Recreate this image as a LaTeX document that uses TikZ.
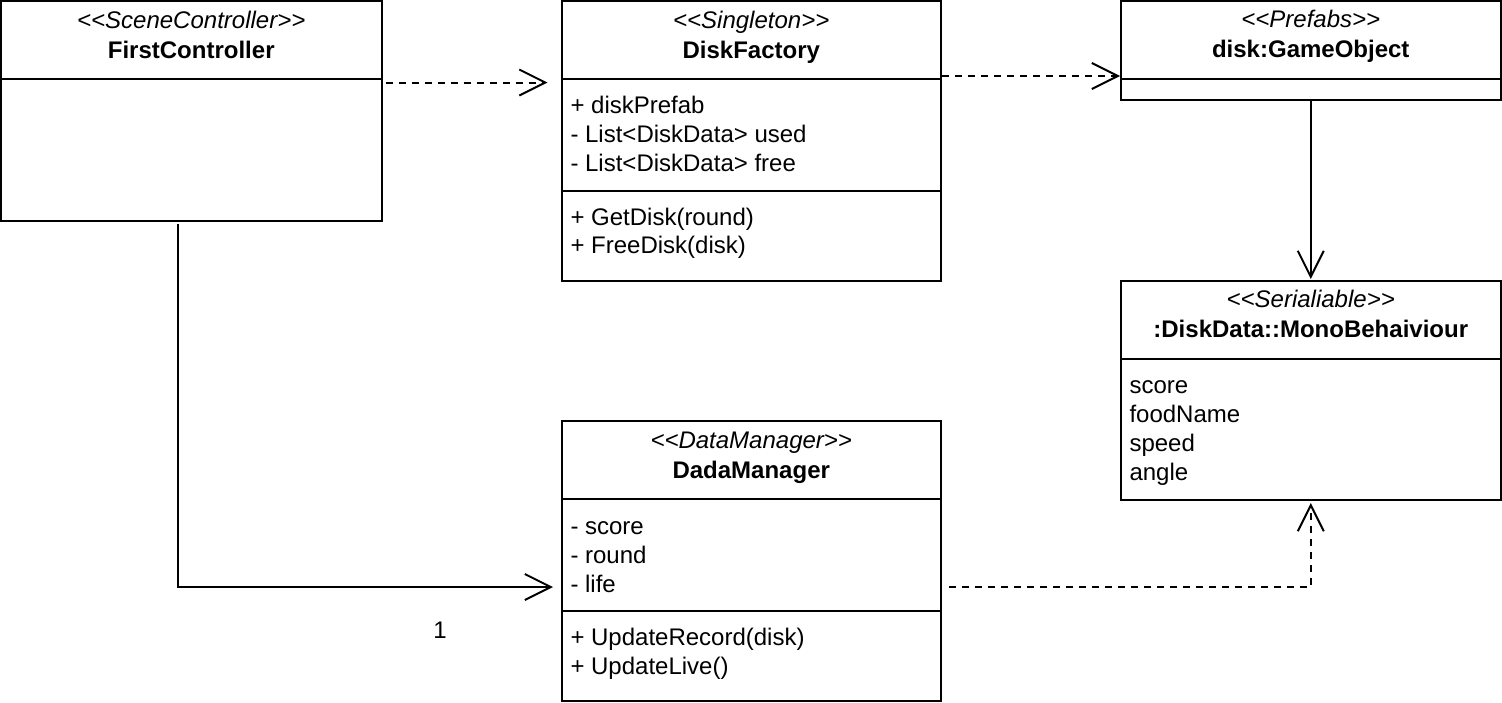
\documentclass[tikz,border=0pt]{standalone}
\usepackage{fontspec}
\setmainfont{Liberation Sans}
\usetikzlibrary{arrows.meta,calc}
\begin{document}
\begin{tikzpicture}[x=1pt,y=-1pt, line width=2pt,
  box/.style={draw, rectangle, anchor=north west, inner sep=0pt, outer sep=0pt, line width=2pt},
  stereo/.style={anchor=base, inner sep=0pt, font=\fontsize{24}{29}\selectfont\itshape},
  ctitle/.style={anchor=base, inner sep=0pt, font=\fontsize{24}{29}\selectfont\bfseries},
  member/.style={anchor=base west, inner sep=0pt, font=\fontsize{24}{29}\selectfont},
  vtip/.tip={Straight Barb[length=26pt, width=26pt, line width=2pt]},
  dep/.style={line width=2pt, dash pattern=on 7pt off 6pt, -vtip},
  assoc/.style={line width=2pt, -vtip},
]
\useasboundingbox (0,0) rectangle (1502,702);

% boxes
\node[box, minimum width=380.5pt, minimum height=220pt] (FC) at (1,1) {};
\node[box, minimum width=379.5pt, minimum height=280pt] (DF) at (561.5,1) {};
\node[box, minimum width=380.5pt, minimum height=99pt] (GO) at (1120.5,1) {};
\node[box, minimum width=380.5pt, minimum height=219pt] (DD) at (1120.5,281) {};
\node[box, minimum width=379.5pt, minimum height=280pt] (DM) at (561.5,421) {};

% dividers
\draw ($(FC.north west)+(0,78)$) -- ($(FC.north east)+(0,78)$);
\draw ($(DF.north west)+(0,78)$) -- ($(DF.north east)+(0,78)$);
\draw ($(DF.north west)+(0,190)$) -- ($(DF.north east)+(0,190)$);
\draw ($(GO.north west)+(0,78)$) -- ($(GO.north east)+(0,78)$);
\draw ($(DD.north west)+(0,78)$) -- ($(DD.north east)+(0,78)$);
\draw ($(DM.north west)+(0,78)$) -- ($(DM.north east)+(0,78)$);
\draw ($(DM.north west)+(0,190)$) -- ($(DM.north east)+(0,190)$);

% FirstController
\node[stereo] (fcS) at ($(FC.north)+(0,27)$) {<{}<SceneController>{}>};
\node[ctitle] (fcT) at ($(FC.north)+(0,57)$) {FirstController};

% DiskFactory
\node[stereo] (dfS) at ($(DF.north)+(0,27)$) {<{}<Singleton>{}>};
\node[ctitle] (dfT) at ($(DF.north)+(0,57)$) {DiskFactory};
\node[member] (dfA1) at ($(DF.north west)+(8,112)$) {+ diskPrefab};
\node[member] (dfA2) at ($(DF.north west)+(8,141)$) {- List<DiskData> used};
\node[member] (dfA3) at ($(DF.north west)+(8,170)$) {- List<DiskData> free};
\node[member] (dfM1) at ($(DF.north west)+(8,224)$) {+ GetDisk(round)};
\node[member] (dfM2) at ($(DF.north west)+(8,252)$) {+ FreeDisk(disk)};

% disk:GameObject
\node[stereo] (goS) at ($(GO.north)+(0,26)$) {<{}<Prefabs>{}>};
\node[ctitle] (goT) at ($(GO.north)+(0,56)$) {disk:GameObject};

% DiskData
\node[stereo] (ddS) at ($(DD.north)+(0,26)$) {<{}<Serialiable>{}>};
\node[ctitle] (ddT) at ($(DD.north)+(0,56)$) {:DiskData::MonoBehaiviour};
\node[member] (ddA1) at ($(DD.north west)+(8,112)$) {score};
\node[member] (ddA2) at ($(DD.north west)+(8,141)$) {foodName};
\node[member] (ddA3) at ($(DD.north west)+(8,170)$) {speed};
\node[member] (ddA4) at ($(DD.north west)+(8,199)$) {angle};

% DadaManager
\node[stereo] (dmS) at ($(DM.north)+(0,27)$) {<{}<DataManager>{}>};
\node[ctitle] (dmT) at ($(DM.north)+(0,57)$) {DadaManager};
\node[member] (dmA1) at ($(DM.north west)+(8,113)$) {- score};
\node[member] (dmA2) at ($(DM.north west)+(8,142)$) {- round};
\node[member] (dmA3) at ($(DM.north west)+(8,171)$) {- life};
\node[member] (dmM1) at ($(DM.north west)+(8,224)$) {+ UpdateRecord(disk)};
\node[member] (dmM2) at ($(DM.north west)+(8,253)$) {+ UpdateLive()};

% connectors
\draw[dep, shorten <=4pt, shorten >=14pt] ($(FC.north east)+(0,81.5)$) -- ($(DF.north west)+(0,81.5)$);
\draw[dep, shorten <=1pt, shorten >=0.5pt] ($(DF.north east)+(0,75)$) -- ($(GO.north west)+(0,75)$);
\draw[assoc, shorten >=2pt] (GO.south) -- (DD.north);
\draw[assoc, shorten >=8.5pt] ($(FC.south)+(-13.5,3)$) |- ($(DM.north west)+(0,166)$);
\draw[dep, shorten <=8pt, shorten >=3pt] ($(DM.north east)+(0,166)$) -| (DD.south);

% multiplicity label
\node[member, anchor=base] (mult) at (440,638) {1};
\end{tikzpicture}
\end{document}
